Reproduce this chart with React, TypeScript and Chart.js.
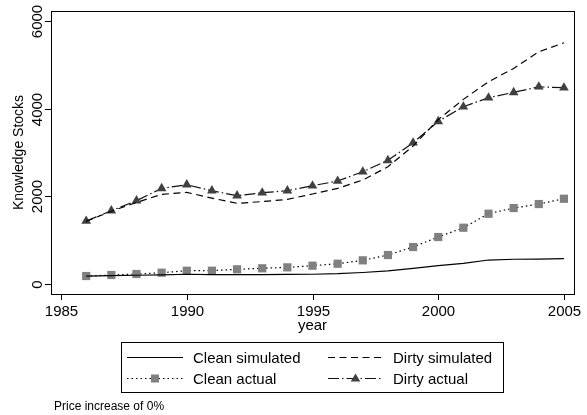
import { useEffect, useRef } from "react";
import { Chart, registerables } from "chart.js";

Chart.register(...registerables);

const years = [1986, 1987, 1988, 1989, 1990, 1991, 1992, 1993, 1994, 1995, 1996, 1997, 1998, 1999, 2000, 2001, 2002, 2003, 2004, 2005];
const cleanSimulated = [180, 192, 200, 210, 222, 215, 212, 215, 218, 222, 235, 262, 300, 355, 418, 471, 547, 565, 568, 577];
const dirtySimulated = [1430, 1660, 1860, 2046, 2091, 1960, 1840, 1880, 1931, 2053, 2182, 2372, 2675, 3147, 3750, 4212, 4613, 4918, 5298, 5503];
const cleanActual = [182, 205, 228, 258, 303, 303, 335, 358, 380, 418, 463, 540, 661, 844, 1072, 1284, 1603, 1733, 1824, 1945];
const dirtyActual = [1437, 1672, 1900, 2182, 2265, 2128, 2014, 2082, 2128, 2242, 2349, 2561, 2821, 3222, 3710, 4043, 4249, 4372, 4499, 4477];

const xTickLabels = [1985, 1990, 1995, 2000, 2005];
const yTickLabels = [0, 2000, 4000, 6000];
const seriesNames = ["Clean simulated", "Dirty simulated", "Clean actual", "Dirty actual"];
const yTitle = "Knowledge Stocks";
const xTitle = "year";
const note = "Price increase of 0%";

const FONT = '"Liberation Sans", Arial, Helvetica, sans-serif';
const SQUARE = "#808080";
const TRI = "#404040";

const pts = (vals: number[]) => vals.map((v, i) => ({ x: years[i], y: v }));

const decorPlugin = {
  id: "decor",
  afterDraw(chart: any) {
    const ctx: CanvasRenderingContext2D = chart.ctx;
    const { left, top, right, bottom } = chart.chartArea;
    const xs = chart.scales.x;
    const ys = chart.scales.y;
    ctx.save();
    ctx.strokeStyle = "#000";
    ctx.fillStyle = "#000";
    ctx.lineWidth = 1;
    ctx.setLineDash([]);
    // plot box
    ctx.strokeRect(Math.round(left) + 0.5, Math.round(top) + 0.5, Math.round(right - left), Math.round(bottom - top));
    // x ticks
    ctx.font = `15px ${FONT}`;
    ctx.textAlign = "center";
    ctx.textBaseline = "alphabetic";
    xTickLabels.forEach((v) => {
      const x = Math.round(xs.getPixelForValue(v)) + 0.5;
      ctx.beginPath();
      ctx.moveTo(x, bottom);
      ctx.lineTo(x, bottom + 6);
      ctx.stroke();
      ctx.fillText(String(v), x, 315.5);
    });
    // x title
    ctx.fillText(xTitle, (left + right) / 2, 330);
    // y ticks
    yTickLabels.forEach((v) => {
      const y = Math.round(ys.getPixelForValue(v)) + 0.5;
      ctx.beginPath();
      ctx.moveTo(left - 6, y);
      ctx.lineTo(left, y);
      ctx.stroke();
      ctx.save();
      ctx.translate(41.5, y);
      ctx.rotate(-Math.PI / 2);
      ctx.font = `15px ${FONT}`;
      ctx.textAlign = "center";
      ctx.fillText(String(v), 0, 0);
      ctx.restore();
    });
    // y title
    ctx.save();
    ctx.translate(22.5, (top + bottom) / 2);
    ctx.rotate(-Math.PI / 2);
    ctx.font = `14px ${FONT}`;
    ctx.textAlign = "center";
    ctx.fillText(yTitle, 0, 0);
    ctx.restore();

    // legend box
    ctx.strokeRect(121.5, 342.5, 382, 50);
    const rows = [357.5, 378.5];
    const cols = [{ x0: 127, x1: 183, tx: 193 }, { x0: 328, x1: 383, tx: 393 }];
    const ds = chart.data.datasets;
    const items = [
      { c: 0, r: 0, d: 0 },
      { c: 1, r: 0, d: 1 },
      { c: 0, r: 1, d: 2 },
      { c: 1, r: 1, d: 3 },
    ];
    items.forEach((it) => {
      const col = cols[it.c];
      const y = rows[it.r];
      const dset = ds[it.d];
      ctx.save();
      ctx.strokeStyle = dset.borderColor;
      ctx.lineWidth = dset.borderWidth;
      ctx.setLineDash(dset.borderDash || []);
      ctx.beginPath();
      ctx.moveTo(col.x0, y);
      ctx.lineTo(col.x1, y);
      ctx.stroke();
      ctx.setLineDash([]);
      const cx = (col.x0 + col.x1) / 2;
      if (dset.pointStyle === "rect") {
        ctx.fillStyle = SQUARE;
        ctx.fillRect(cx - 4, y - 4, 8, 8);
      } else if (dset.pointStyle === "triangle") {
        ctx.fillStyle = TRI;
        ctx.beginPath();
        ctx.moveTo(cx, y - 5);
        ctx.lineTo(cx + 4.8, y + 3);
        ctx.lineTo(cx - 4.8, y + 3);
        ctx.closePath();
        ctx.fill();
      }
      ctx.restore();
      ctx.fillStyle = "#000";
      ctx.font = `15px ${FONT}`;
      ctx.textAlign = "left";
      ctx.textBaseline = "middle";
      ctx.fillText(seriesNames[it.d], col.tx, y + 1);
    });
    // note
    ctx.font = `12px ${FONT}`;
    ctx.textAlign = "left";
    ctx.textBaseline = "alphabetic";
    ctx.fillText(note, 54, 410);
    ctx.restore();
  },
};

export default function App() {
  const ref = useRef<HTMLCanvasElement | null>(null);
  useEffect(() => {
    if (!ref.current) return;
    const chart = new Chart(ref.current, {
      type: "line",
      data: {
        datasets: [
          {
            label: seriesNames[0],
            data: pts(cleanSimulated),
            borderColor: "#000",
            borderWidth: 1.2,
            pointRadius: 0,
            pointStyle: false as any,
            tension: 0,
          },
          {
            label: seriesNames[1],
            data: pts(dirtySimulated),
            borderColor: "#000",
            borderWidth: 1.2,
            borderDash: [7, 4.5],
            pointRadius: 0,
            pointStyle: false as any,
            tension: 0,
          },
          {
            label: seriesNames[2],
            data: pts(cleanActual),
            borderColor: "#000",
            borderWidth: 1.2,
            borderDash: [1.5, 3],
            pointStyle: "rect",
            pointRadius: 5.8,
            pointBackgroundColor: SQUARE,
            pointBorderColor: SQUARE,
            pointBorderWidth: 0,
            tension: 0,
          },
          {
            label: seriesNames[3],
            data: pts(dirtyActual),
            borderColor: "#111",
            borderWidth: 1.2,
            borderDash: [11, 3, 1.5, 3],
            pointStyle: "triangle",
            pointRadius: 5.6,
            pointBackgroundColor: TRI,
            pointBorderColor: TRI,
            pointBorderWidth: 0,
            tension: 0,
          },
        ],
      },
      options: {
        responsive: false,
        animation: false,
        devicePixelRatio: 1,
        layout: { padding: { left: 0, top: 11, right: 13, bottom: 0 } },
        plugins: { legend: { display: false }, tooltip: { enabled: false } },
        scales: {
          x: {
            type: "linear",
            min: 1984.6,
            max: 2005.4,
            grid: { display: false },
            border: { display: false },
            ticks: { display: false },
            afterFit: (s: any) => {
              s.height = 121;
            },
          },
          y: {
            type: "linear",
            min: -228,
            max: 6228,
            grid: { display: false },
            border: { display: false },
            ticks: { display: false },
            afterFit: (s: any) => {
              s.width = 51;
            },
          },
        },
      },
      plugins: [decorPlugin],
    });
    return () => chart.destroy();
  }, []);
  return (
    <div style={{ position: "absolute", left: 0, top: 0, width: 587, height: 415, background: "#fff" }}>
      <canvas ref={ref} width={587} height={415} style={{ width: 587, height: 415, display: "block" }} />
    </div>
  );
}
